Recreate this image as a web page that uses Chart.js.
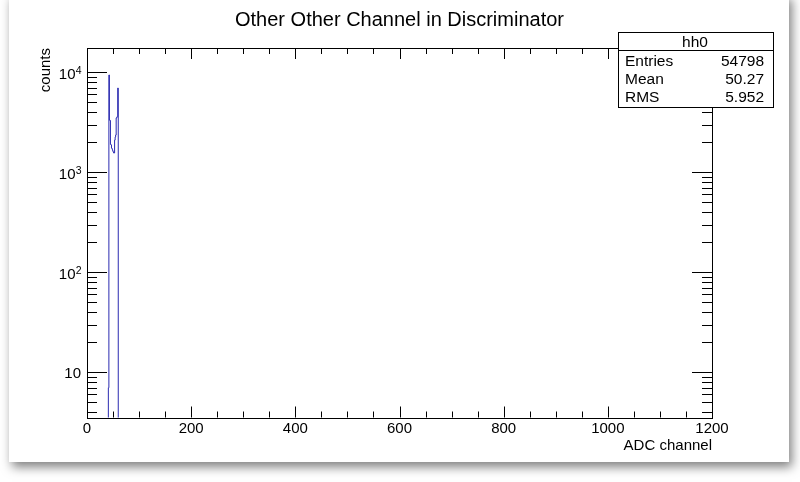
<!DOCTYPE html>
<html lang="en">
<head>
    <meta charset="UTF-8">
    <title>Other Other Channel in Discriminator</title>
    <script src="https://cdn.jsdelivr.net/npm/chart.js"></script>
    <style>
        body { margin: 0; background: #fff; }
        #win {
            position: absolute; left: 9px; top: -6px; width: 780px; height: 468px;
            background: #fff; box-shadow: 3px 5px 10px rgba(0, 0, 0, 0.5);
        }
        #hist { position: absolute; left: 0; top: 0; }
    </style>
</head>
<body>
    <div id="win"></div>
    <canvas id="hist" width="800" height="482"></canvas>

    <script>
        // Histogram hh0: bin low edges (ADC channel) and counts per bin
        const binEdges = [40, 41, 42, 43, 44, 45, 46, 47, 48, 49, 50, 51, 52, 53, 54, 55, 56, 57, 58, 59, 60];
        const counts   = [0, 7, 9400, 3330, 3300, 1900, 1880, 1750, 1700, 1650, 1600, 1560, 1560, 2100, 2250, 2360, 3490, 3550, 3600, 6960, 0];

        // Statistics box
        const statsName = 'hh0';
        const statsRows = [['Entries', '54798'], ['Mean', '50.27'], ['RMS', '5.952']];

        const xTicks = [0, 200, 400, 600, 800, 1000, 1200];
        const yDecades = [1, 2, 3, 4];

        const FONT = '"Liberation Sans", Arial, Helvetica, sans-serif';

        // Draws the ROOT style frame, ticks, labels and stats box
        const rootFrame = {
            id: 'rootFrame',
            afterDraw(chart) {
                const ctx = chart.ctx;
                const a = chart.chartArea;
                const xs = chart.scales.x, ys = chart.scales.y;
                ctx.save();
                ctx.strokeStyle = '#000';
                ctx.lineWidth = 1;
                ctx.strokeRect(Math.round(a.left) + 0.5, Math.round(a.top) + 0.5,
                               Math.round(a.right - a.left), Math.round(a.bottom - a.top));

                // x ticks, bottom and top, pointing inside
                ctx.beginPath();
                for (let v = xs.min; v <= xs.max; v += 50) {
                    const px = Math.round(xs.getPixelForValue(v)) + 0.5;
                    const len = v % 200 === 0 ? 11 : 6;
                    ctx.moveTo(px, a.bottom); ctx.lineTo(px, a.bottom - len);
                    ctx.moveTo(px, a.top); ctx.lineTo(px, a.top + len);
                }
                // y ticks, left and right
                for (let d = 0; d <= 5; d++) {
                    for (let m = 1; m <= 9; m++) {
                        const v = m * Math.pow(10, d);
                        if (v < ys.min || v > ys.max) continue;
                        const py = Math.round(ys.getPixelForValue(v)) + 0.5;
                        const len = m === 1 ? 20 : 10;
                        ctx.moveTo(a.left, py); ctx.lineTo(a.left + len, py);
                        ctx.moveTo(a.right, py); ctx.lineTo(a.right - len, py);
                    }
                }
                ctx.stroke();

                // x tick labels
                ctx.fillStyle = '#000';
                ctx.font = '15px ' + FONT;
                ctx.textAlign = 'center';
                ctx.textBaseline = 'alphabetic';
                xTicks.forEach(v => ctx.fillText(String(v), xs.getPixelForValue(v), 433));

                // y tick labels
                yDecades.forEach(d => {
                    const py = ys.getPixelForValue(Math.pow(10, d));
                    ctx.textAlign = 'right';
                    if (d === 1) {
                        ctx.font = '15px ' + FONT;
                        ctx.fillText('10', 81, py + 6);
                    } else {
                        ctx.font = '10.5px ' + FONT;
                        ctx.fillText(String(d), 81.5, py + 2);
                        ctx.font = '15px ' + FONT;
                        ctx.fillText('10', 75.5, py + 7);
                    }
                });

                // axis titles
                ctx.font = '15px ' + FONT;
                ctx.textAlign = 'right';
                ctx.fillText('ADC channel', a.right, 450);
                ctx.save();
                ctx.translate(50, a.top);
                ctx.rotate(-Math.PI / 2);
                ctx.textAlign = 'right';
                ctx.fillText('counts', 0, 0);
                ctx.restore();

                // title
                ctx.font = '20px ' + FONT;
                ctx.textAlign = 'center';
                ctx.fillText('Other Other Channel in Discriminator', 399.5, 25.5);

                // stats box
                const bx = 618.5, by = 32.5, bw = 155, bh = 75;
                ctx.fillStyle = '#fff';
                ctx.fillRect(bx, by, bw, bh);
                ctx.strokeRect(bx, by, bw, bh);
                ctx.beginPath();
                ctx.moveTo(bx, 50.5); ctx.lineTo(bx + bw, 50.5);
                ctx.stroke();
                ctx.fillStyle = '#000';
                ctx.font = '15.5px ' + FONT;
                ctx.textAlign = 'center';
                ctx.fillText(statsName, 695, 46.5);
                statsRows.forEach((r, i) => {
                    const y = 66 + i * 18;
                    ctx.textAlign = 'left';
                    ctx.fillText(r[0], 625, y);
                    ctx.textAlign = 'right';
                    ctx.fillText(r[1], 764, y);
                });
                ctx.restore();
            }
        };

        // log scale drops zeros, so empty bins are placed below the axis (clipped)
        const histPoints = binEdges.map((x, i) => ({ x: x, y: counts[i] > 0 ? counts[i] : 1e-3 }));

        const ctx = document.getElementById('hist').getContext('2d');
        const chart = new Chart(ctx, {
            type: 'line',
            data: {
                datasets: [{
                    label: statsName,
                    data: histPoints,
                    borderColor: '#2b2bb0',
                    borderWidth: 1,
                    pointRadius: 0,
                    stepped: true,
                    fill: false,
                    tension: 0
                }]
            },
            options: {
                responsive: false,
                animation: false,
                devicePixelRatio: 1,
                layout: { padding: { left: 87, right: 88, top: 48, bottom: 64.5 } },
                plugins: { legend: { display: false }, tooltip: { enabled: false } },
                scales: {
                    x: { type: 'linear', min: 0, max: 1200, display: false },
                    y: { type: 'logarithmic', min: 3.53, max: 17500, display: false }
                }
            },
            plugins: [rootFrame]
        });
    </script>
</body>
</html>
